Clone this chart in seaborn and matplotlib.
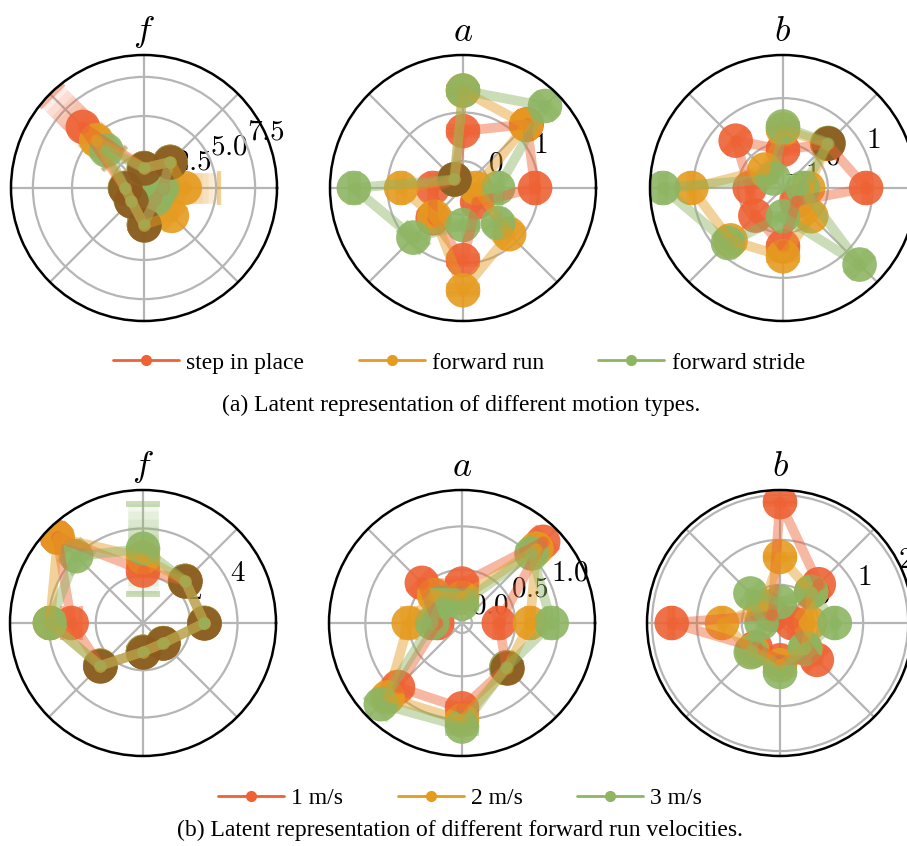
import numpy as np
import pandas as pd
import matplotlib
matplotlib.use("Agg")
import matplotlib.pyplot as plt
from matplotlib.lines import Line2D
import seaborn as sns

angles_deg = [0, 45, 90, 135, 180, 225, 270, 315]

motion_labels = ["step in place", "forward run", "forward stride"]
speed_labels = ["1 m/s", "2 m/s", "3 m/s"]
colors = ["#ee6234", "#e59b1f", "#8db562"]
overlap_color = "#8c5a1e"

# (a) motion types -- one list per series, values at angles_deg
motion_f = [
    [1.61, 2.76, 1.67, 5.92, 1.61, 1.55, 2.74, 1.42],
    [3.00, 2.76, 1.67, 4.71, 1.61, 1.55, 2.74, 2.92],
    [1.61, 2.76, 1.67, 3.81, 1.61, 1.55, 2.74, 1.42],
]
motion_f_err = [
    [0.2, 0.2, 0.2, 2.8, 0.2, 0.2, 0.2, 0.2],
    [2.2, 0.2, 0.2, 0.5, 0.2, 0.2, 0.2, 0.3],
    [0.2, 0.2, 0.2, 0.8, 0.2, 0.2, 0.2, 0.2],
]
motion_a = [
    [0.93, 1.30, 0.62, -0.30, 0.07, 0.33, 0.93, -0.14],
    [-0.28, 1.28, 1.45, -0.30, 0.72, 0.28, 1.55, 0.79],
    [0.17, 1.83, 1.45, -0.30, 1.69, 0.89, 0.21, 0.47],
]
motion_a_err = [
    [0.08, 0.08, 0.08, 0.08, 0.08, 0.10, 0.08, 0.08],
    [0.08, 0.08, 0.08, 0.08, 0.08, 0.10, 0.08, 0.12],
    [0.08, 0.08, 0.08, 0.08, 0.10, 0.14, 0.08, 0.10],
]
motion_b = [
    [0.85, 0.39, -0.15, 0.49, -0.26, -0.13, 0.30, -0.58],
    [-0.44, 0.40, 0.30, -0.42, 1.04, 0.65, 0.52, -0.11],
    [-0.56, 0.42, 0.37, -0.70, 1.67, 0.73, -0.37, 1.41],
]
motion_b_err = [
    [0.06, 0.06, 0.06, 0.06, 0.06, 0.06, 0.06, 0.06],
    [0.06, 0.06, 0.06, 0.06, 0.06, 0.10, 0.08, 0.06],
    [0.06, 0.08, 0.06, 0.06, 0.08, 0.14, 0.06, 0.10],
]

# (b) forward run velocities
speed_f = [
    [2.60, 2.52, 2.22, 5.15, 3.02, 2.56, 1.22, 1.21],
    [2.60, 2.52, 2.78, 5.10, 3.94, 2.56, 1.22, 1.21],
    [2.60, 2.52, 3.14, 4.00, 3.94, 2.56, 1.22, 1.21],
]
speed_f_err = [
    [0.15, 0.15, 0.20, 0.20, 0.40, 0.15, 0.15, 0.15],
    [0.15, 0.15, 0.30, 0.20, 0.15, 0.15, 0.15, 0.15],
    [0.15, 0.15, 1.90, 0.40, 0.15, 0.15, 0.15, 0.15],
]
speed_a = [
    [0.31, 1.21, 0.34, 0.54, 0.17, 0.93, 0.87, 0.61],
    [0.67, 1.10, 0.18, 0.34, 0.50, 1.10, 1.01, 0.62],
    [0.92, 1.02, 0.11, 0.22, 0.23, 1.21, 1.08, 0.61],
]
speed_a_err = [
    [0.05, 0.06, 0.05, 0.05, 0.05, 0.06, 0.05, 0.06],
    [0.05, 0.06, 0.05, 0.05, 0.08, 0.06, 0.05, 0.07],
    [0.06, 0.06, 0.05, 0.05, 0.05, 0.08, 0.08, 0.08],
]
speed_b = [
    [-0.59, 0.37, 1.84, -0.60, 1.56, -0.08, -0.02, 0.31],
    [-0.18, 0.13, 0.62, -0.32, 0.44, 0.02, 0.09, -0.05],
    [0.37, 0.13, -0.38, 0.08, -0.44, 0.07, 0.24, -0.06],
]
speed_b_err = [
    [0.05, 0.05, 0.05, 0.05, 0.05, 0.05, 0.05, 0.05],
    [0.05, 0.05, 0.05, 0.05, 0.05, 0.05, 0.05, 0.05],
    [0.05, 0.05, 0.05, 0.05, 0.05, 0.05, 0.05, 0.05],
]

sns.set_theme(style="white")
plt.rcParams["font.family"] = ["Liberation Serif", "DejaVu Serif"]
plt.rcParams["mathtext.fontset"] = "cm"
plt.rcParams["text.color"] = "black"
plt.rcParams["ytick.color"] = "black"
plt.rcParams["xtick.color"] = "black"

fig = plt.figure(figsize=(9.07, 8.46), dpi=100)

W, H = 907, 846
R = 133


def polar_ax(cx, cy):
    return fig.add_axes([(cx - R) / W, (H - cy - R) / H, 2 * R / W, 2 * R / H],
                        projection="polar")


def draw_panel(ax, means, errs, labels, title, rlim, rticks):
    theta = np.deg2rad(angles_deg)
    rows = []
    for lab, m in zip(labels, means):
        for t, v in zip(list(theta) + [2 * np.pi], list(m) + [m[0]]):
            rows.append({"theta": t, "r": v, "series": lab})
    df = pd.DataFrame(rows)
    pts = df[df["theta"] < 2 * np.pi]
    pal = dict(zip(labels, colors))

    # blurred radial error bars
    for m, e, c in zip(means, errs, colors):
        e = np.array(e)
        for k in range(6):
            ax.errorbar(theta, m, yerr=e * (k + 1) / 6, fmt="none", ecolor=c,
                        elinewidth=22, alpha=0.11, capsize=0, zorder=1.5)
        ax.errorbar(theta, m, yerr=e, fmt="none", ecolor=c, elinewidth=0,
                    capsize=12, capthick=3, alpha=0.45, zorder=1.6)

    sns.scatterplot(data=pts, x="theta", y="r", hue="series", palette=pal,
                    s=620, alpha=0.9, linewidth=0, legend=False, ax=ax, zorder=2)

    # spots where all three series sit on top of each other
    arr = np.array(means)
    span = rlim[1] - rlim[0]
    same = (arr.max(axis=0) - arr.min(axis=0)) < 0.04 * span
    if same.any():
        ax.scatter(theta[same], arr.mean(axis=0)[same], s=620, color=overlap_color,
                   alpha=0.9, linewidth=0, zorder=2.2)

    sns.lineplot(data=df, x="theta", y="r", hue="series", palette=pal, sort=False,
                 estimator=None, errorbar=None, legend=False, ax=ax,
                 linewidth=7, alpha=0.45, marker="o", markersize=9,
                 markeredgewidth=0, zorder=3)

    ax.set_ylim(*rlim)
    ax.set_yticks(rticks)
    ax.set_yticklabels([f"${t:.1f}$" if isinstance(t, float) else f"${t}$" for t in rticks])
    ax.set_xticks(theta)
    ax.set_xticklabels([])
    ax.set_xlabel("")
    ax.set_ylabel("")
    ax.set_rlabel_position(22.5)
    ax.tick_params(axis="y", labelsize=21, pad=0)
    ax.grid(True, color="#b5b5b5", linewidth=1.6)
    ax.spines["polar"].set_color("black")
    ax.spines["polar"].set_linewidth(1.8)
    ax.set_title(title, fontsize=26, pad=10)


draw_panel(polar_ax(144, 188), motion_f, motion_f_err, motion_labels, "$f$",
           (0.4, 8.9), [2.5, 5.0, 7.5])
draw_panel(polar_ax(463, 188), motion_a, motion_a_err, motion_labels, "$a$",
           (-0.55, 2.18), [0, 1])
draw_panel(polar_ax(783, 188), motion_b, motion_b_err, motion_labels, "$b$",
           (-1.0, 1.96), [-1, 0, 1])
draw_panel(polar_ax(143, 623), speed_f, speed_f_err, speed_labels, "$f$",
           (0.0, 5.63), [2, 4])
draw_panel(polar_ax(462, 623), speed_a, speed_a_err, speed_labels, "$a$",
           (-0.115, 1.42), [0.0, 0.5, 1.0])
draw_panel(polar_ax(780, 623), speed_b, speed_b_err, speed_labels, "$b$",
           (-0.85, 2.11), [0, 1, 2])


def legend_handles():
    return [Line2D([], [], color=c, lw=2, marker="o", markersize=7) for c in colors]


fig.legend(legend_handles(), motion_labels, loc="center", bbox_to_anchor=(459 / W, 1 - 363 / H),
           ncol=3, frameon=False, fontsize=17, handlelength=2.8, handletextpad=0.3,
           columnspacing=2.3)
fig.text(461 / W, 1 - 405 / H, "(a) Latent representation of different motion types.",
         ha="center", va="center", fontsize=17)

fig.legend(legend_handles(), speed_labels, loc="center", bbox_to_anchor=(460 / W, 1 - 798 / H),
           ncol=3, frameon=False, fontsize=17, handlelength=2.8, handletextpad=0.3,
           columnspacing=2.3)
fig.text(460 / W, 1 - 830 / H, "(b) Latent representation of different forward run velocities.",
         ha="center", va="center", fontsize=17)

fig.savefig("out.png", dpi=100)
